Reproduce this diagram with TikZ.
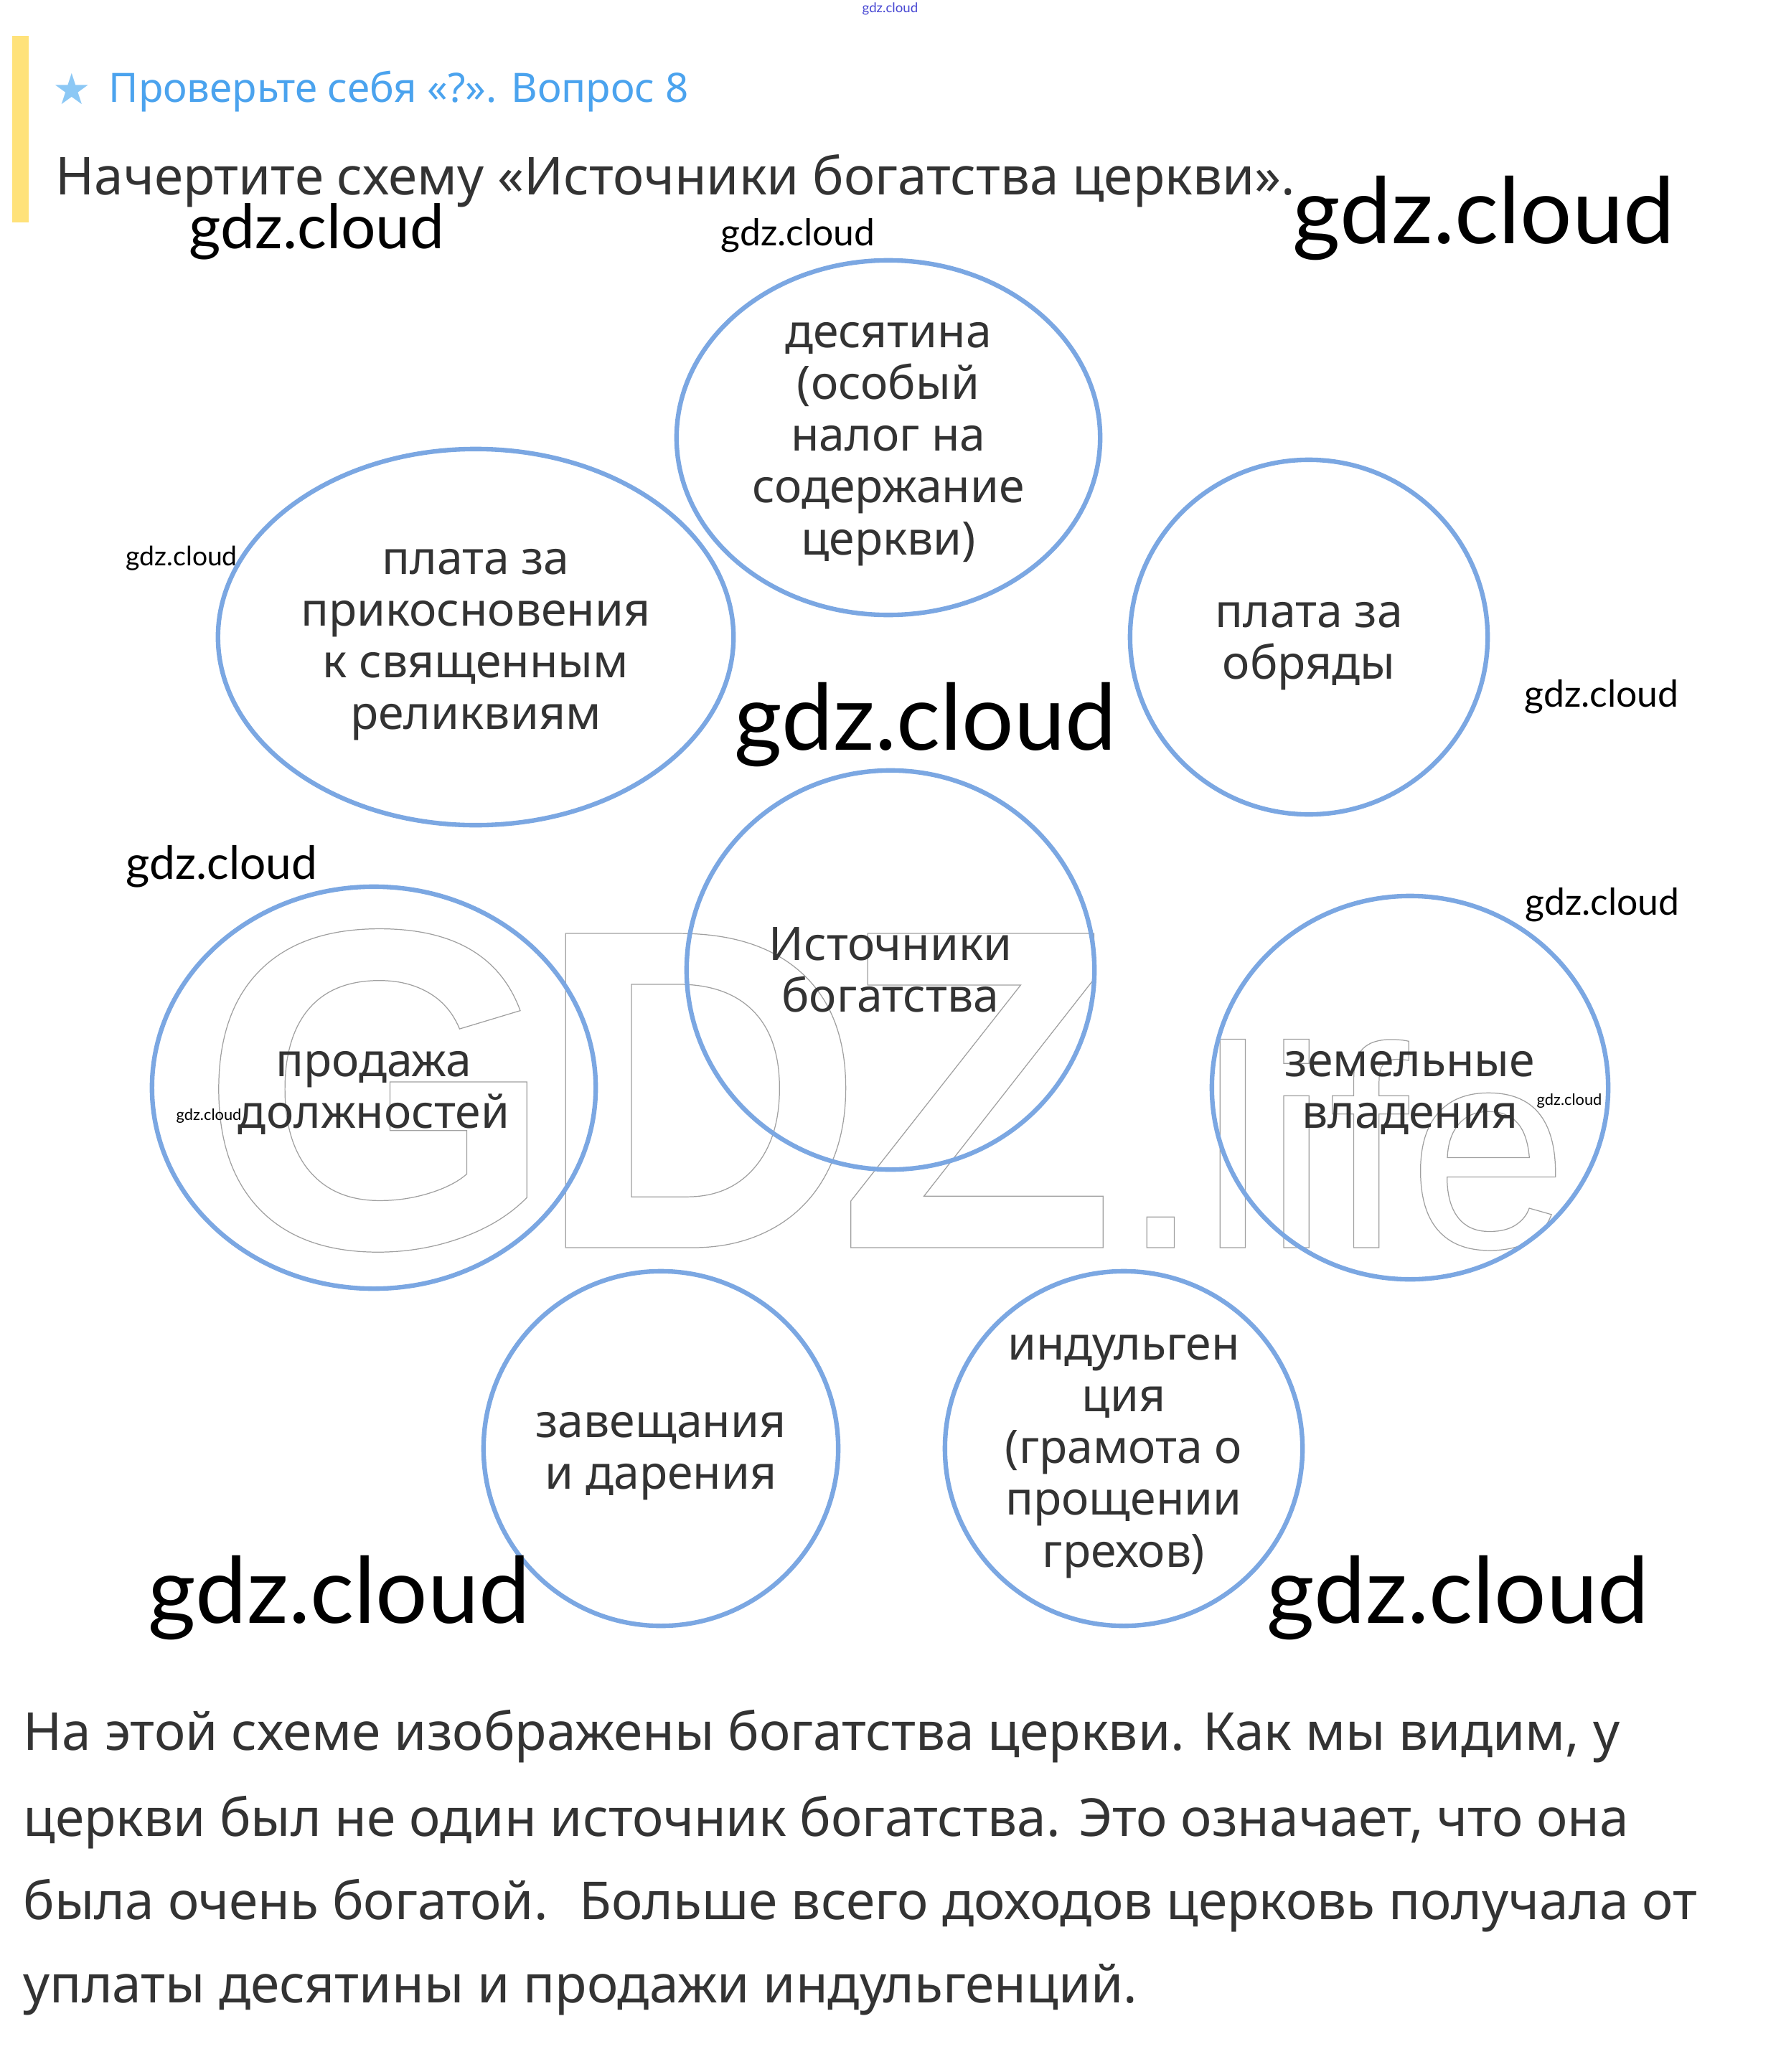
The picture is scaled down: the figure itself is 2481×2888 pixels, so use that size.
\documentclass[tikz,border=0pt]{standalone}
\usepackage{fontspec}
\setmainfont{Noto Sans}
\newfontfamily\gdzfont{Lato}
\newfontfamily\symfont{DejaVu Sans}
\newfontfamily\logofont{Liberation Sans}
\usepackage{tikz}
\usetikzlibrary{shapes.geometric, positioning}
\definecolor{ovalblue}{RGB}{123,167,226}
\definecolor{textgray}{RGB}{51,51,51}
\definecolor{headblue}{RGB}{75,163,238}
\definecolor{starblue}{RGB}{140,200,245}
\definecolor{baryellow}{RGB}{255,226,122}
\definecolor{tinyblue}{RGB}{70,70,210}
\definecolor{logogray}{RGB}{160,160,160}
\newcommand{\outlined}[1]{\special{pdf:literal direct 1 Tr 0.35 w}#1\special{pdf:literal direct 0 Tr}}
\tikzstyle{oval} = [ellipse, draw=ovalblue, line width=1.8pt, inner sep=0pt]
\tikzstyle{ovaltext} = [align=center, text=textgray, inner sep=0pt,
 font=\fontsize{18.3}{20.5}\selectfont]
\tikzstyle{para} = [anchor=base west, inner sep=0pt, text=textgray,
 font=\fontsize{20.75}{24}\selectfont]
\tikzstyle{wm} = [anchor=base west, inner sep=0pt, text=black]
\tikzstyle{logo} = [anchor=base west, inner sep=0pt, text=logogray,
 font=\logofont\bfseries\fontsize{181}{185}\selectfont]

\begin{document}
\begin{tikzpicture}[x=0.01cm, y=-0.01cm]
\useasboundingbox (0,0) rectangle (2481,2888);
\fill[baryellow] (17,50) rectangle (40,310);
\node(star) [text=starblue, font=\symfont\fontsize{17}{20}\selectfont] at (100,124) {★};
\node(head) [anchor=base west, inner sep=0pt, text=headblue, font=\fontsize{16.05}{20}\selectfont] at (151,143) {Проверьте себя «?». Вопрос 8};
\node(task) [para, font=\fontsize{20.7}{24}\selectfont] at (77,272) {Начертите схему «Источники богатства церкви».};

\node(logo_g) [logo] at (278,1739) {\outlined{G}};
\node(logo_d) [logo] at (745,1739) {\outlined{D}};
\node(logo_z) [logo] at (1166,1739) {\outlined{Z}};
\node(logo_life) [logo, font=\logofont\fontsize{114}{120}\selectfont] at (1561,1739) {\outlined{.life}};

\node(tithe) [oval, minimum width=5.9cm, minimum height=4.94cm] at (1238,610) {};
\node(relics) [oval, minimum width=7.18cm, minimum height=5.24cm] at (663,888) {};
\node(rites) [oval, minimum width=4.98cm, minimum height=4.94cm] at (1824,888) {};
\node(sources) [oval, minimum width=5.68cm, minimum height=5.56cm] at (1241,1352) {};
\node(offices) [oval, minimum width=6.18cm, minimum height=5.6cm] at (521,1516) {};
\node(lands) [oval, minimum width=5.52cm, minimum height=5.34cm] at (1965,1516) {};
\node(wills) [oval, minimum width=4.94cm, minimum height=4.94cm] at (921,2019) {};
\node(indulgence) [oval, minimum width=4.98cm, minimum height=4.94cm] at (1566,2019) {};

\node(tithe_txt) [ovaltext, yshift=-0.09cm] at (tithe) {десятина\\(особый\\налог на\\содержание\\церкви)};
\node(relics_txt) [ovaltext, yshift=-0.11cm] at (relics) {плата за\\прикосновения\\к священным\\реликвиям};
\node(rites_txt) [ovaltext, yshift=-0.13cm] at (rites) {плата за\\обряды};
\node(sources_txt) [ovaltext] at (sources) {Источники\\богатства};
\node(offices_txt) [ovaltext, yshift=-0.07cm] at (offices) {продажа\\должностей};
\node(lands_txt) [ovaltext, yshift=-0.07cm] at (lands) {земельные\\владения};
\node(wills_txt) [ovaltext, yshift=-0.11cm] at (wills) {завещания\\и дарения};
\node(indulgence_txt) [ovaltext, yshift=-0.11cm] at (indulgence) {индульген\\ция\\(грамота о\\прощении\\грехов)};

\node(line_a) [para] at (32,2439) {На этой схеме изображены богатства церкви. Как мы видим, у};
\node(line_b) [para] at (32,2559) {церкви был не один источник богатства. Это означает, что она};
\node(line_c) [para] at (32,2675) {была очень богатой.~ Больше всего доходов церковь получала от};
\node(line_d) [para] at (32,2791) {уплаты десятины и продажи индульгенций.};

\node(wm_top) [wm, text=tinyblue, font=\gdzfont\fontsize{5.3}{6}\selectfont] at (1201,18) {gdz.cloud};
\node(wm_a) [wm, font=\gdzfont\fontsize{24.3}{28}\selectfont] at (263,347) {gdz.cloud};
\node(wm_b) [wm, font=\gdzfont\fontsize{14.7}{17}\selectfont] at (1004,343) {gdz.cloud};
\node(wm_c) [wm, font=\gdzfont\fontsize{36.4}{40}\selectfont] at (1801,340) {gdz.cloud};
\node(wm_d) [wm, font=\gdzfont\fontsize{10.6}{12}\selectfont] at (175,788) {gdz.cloud};
\node(wm_e) [wm, font=\gdzfont\fontsize{36.4}{40}\selectfont] at (1023,1045) {gdz.cloud};
\node(wm_f) [wm, font=\gdzfont\fontsize{14.7}{17}\selectfont] at (2124,985) {gdz.cloud};
\node(wm_g) [wm, font=\gdzfont\fontsize{18.2}{21}\selectfont] at (175,1225) {gdz.cloud};
\node(wm_h) [wm, font=\gdzfont\fontsize{14.7}{17}\selectfont] at (2125,1275) {gdz.cloud};
\node(wm_i) [wm, font=\gdzfont\fontsize{6.2}{7}\selectfont] at (2141,1540) {gdz.cloud};
\node(wm_j) [wm, font=\gdzfont\fontsize{6.2}{7}\selectfont] at (245,1561) {gdz.cloud};
\node(wm_k) [wm, font=\gdzfont\fontsize{36.4}{40}\selectfont] at (206,2262) {gdz.cloud};
\node(wm_l) [wm, font=\gdzfont\fontsize{36.4}{40}\selectfont] at (1765,2262) {gdz.cloud};
\end{tikzpicture}
\end{document}
